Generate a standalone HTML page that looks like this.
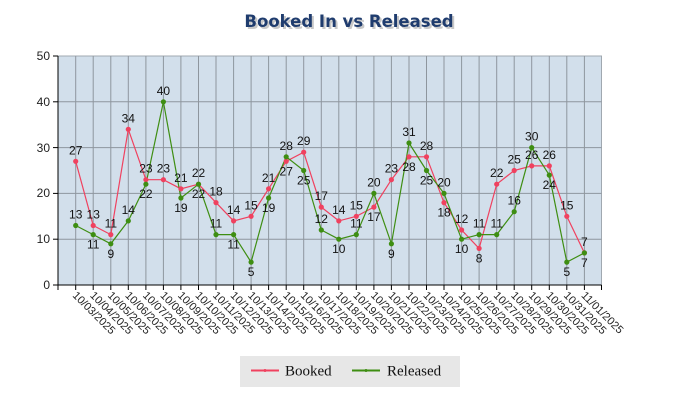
<!DOCTYPE html>
<html><head><meta charset="utf-8"><style>
html,body{margin:0;padding:0;background:#fff;}
svg text{font-family:"Liberation Sans","DejaVu Sans",sans-serif;}
</style></head><body>
<svg width="700" height="400" viewBox="0 0 700 400" xmlns="http://www.w3.org/2000/svg">
<text x="351" y="29" text-anchor="middle" font-size="16.5" font-weight="bold" fill="#c8c8c8" style="font-family:'DejaVu Sans',sans-serif">Booked In vs Released</text>
<text x="349" y="27" text-anchor="middle" font-size="16.5" font-weight="bold" fill="#1f3c6e" style="font-family:'DejaVu Sans',sans-serif">Booked In vs Released</text>
<rect x="58" y="56" width="543.5" height="229" fill="#d2dfeb" stroke="#a0a8b0" stroke-width="1"/>
<g stroke="#8e969e" stroke-width="1">
<line x1="58" y1="101.8" x2="601.5" y2="101.8"/><line x1="58" y1="147.6" x2="601.5" y2="147.6"/><line x1="58" y1="193.4" x2="601.5" y2="193.4"/><line x1="58" y1="239.2" x2="601.5" y2="239.2"/>
<line x1="75.7" y1="56" x2="75.7" y2="285"/><line x1="93.2" y1="56" x2="93.2" y2="285"/><line x1="110.8" y1="56" x2="110.8" y2="285"/><line x1="128.3" y1="56" x2="128.3" y2="285"/><line x1="145.9" y1="56" x2="145.9" y2="285"/><line x1="163.4" y1="56" x2="163.4" y2="285"/><line x1="180.9" y1="56" x2="180.9" y2="285"/><line x1="198.5" y1="56" x2="198.5" y2="285"/><line x1="216.0" y1="56" x2="216.0" y2="285"/><line x1="233.6" y1="56" x2="233.6" y2="285"/><line x1="251.1" y1="56" x2="251.1" y2="285"/><line x1="268.6" y1="56" x2="268.6" y2="285"/><line x1="286.2" y1="56" x2="286.2" y2="285"/><line x1="303.7" y1="56" x2="303.7" y2="285"/><line x1="321.3" y1="56" x2="321.3" y2="285"/><line x1="338.8" y1="56" x2="338.8" y2="285"/><line x1="356.3" y1="56" x2="356.3" y2="285"/><line x1="373.9" y1="56" x2="373.9" y2="285"/><line x1="391.4" y1="56" x2="391.4" y2="285"/><line x1="409.0" y1="56" x2="409.0" y2="285"/><line x1="426.5" y1="56" x2="426.5" y2="285"/><line x1="444.0" y1="56" x2="444.0" y2="285"/><line x1="461.6" y1="56" x2="461.6" y2="285"/><line x1="479.1" y1="56" x2="479.1" y2="285"/><line x1="496.7" y1="56" x2="496.7" y2="285"/><line x1="514.2" y1="56" x2="514.2" y2="285"/><line x1="531.7" y1="56" x2="531.7" y2="285"/><line x1="549.3" y1="56" x2="549.3" y2="285"/><line x1="566.8" y1="56" x2="566.8" y2="285"/><line x1="584.4" y1="56" x2="584.4" y2="285"/>
</g>
<g stroke="#000" stroke-width="1">
<line x1="58" y1="56" x2="58" y2="285"/><line x1="58" y1="285" x2="601.5" y2="285"/>
<line x1="53" y1="56" x2="58" y2="56"/><line x1="53" y1="101.8" x2="58" y2="101.8"/><line x1="53" y1="147.6" x2="58" y2="147.6"/><line x1="53" y1="193.4" x2="58" y2="193.4"/><line x1="53" y1="239.2" x2="58" y2="239.2"/><line x1="53" y1="285" x2="58" y2="285"/>
<line x1="58" y1="285" x2="58" y2="290"/><line x1="601.5" y1="285" x2="601.5" y2="290"/>
<line x1="75.7" y1="285" x2="75.7" y2="290"/><line x1="93.2" y1="285" x2="93.2" y2="290"/><line x1="110.8" y1="285" x2="110.8" y2="290"/><line x1="128.3" y1="285" x2="128.3" y2="290"/><line x1="145.9" y1="285" x2="145.9" y2="290"/><line x1="163.4" y1="285" x2="163.4" y2="290"/><line x1="180.9" y1="285" x2="180.9" y2="290"/><line x1="198.5" y1="285" x2="198.5" y2="290"/><line x1="216.0" y1="285" x2="216.0" y2="290"/><line x1="233.6" y1="285" x2="233.6" y2="290"/><line x1="251.1" y1="285" x2="251.1" y2="290"/><line x1="268.6" y1="285" x2="268.6" y2="290"/><line x1="286.2" y1="285" x2="286.2" y2="290"/><line x1="303.7" y1="285" x2="303.7" y2="290"/><line x1="321.3" y1="285" x2="321.3" y2="290"/><line x1="338.8" y1="285" x2="338.8" y2="290"/><line x1="356.3" y1="285" x2="356.3" y2="290"/><line x1="373.9" y1="285" x2="373.9" y2="290"/><line x1="391.4" y1="285" x2="391.4" y2="290"/><line x1="409.0" y1="285" x2="409.0" y2="290"/><line x1="426.5" y1="285" x2="426.5" y2="290"/><line x1="444.0" y1="285" x2="444.0" y2="290"/><line x1="461.6" y1="285" x2="461.6" y2="290"/><line x1="479.1" y1="285" x2="479.1" y2="290"/><line x1="496.7" y1="285" x2="496.7" y2="290"/><line x1="514.2" y1="285" x2="514.2" y2="290"/><line x1="531.7" y1="285" x2="531.7" y2="290"/><line x1="549.3" y1="285" x2="549.3" y2="290"/><line x1="566.8" y1="285" x2="566.8" y2="290"/><line x1="584.4" y1="285" x2="584.4" y2="290"/>
</g>
<g font-size="12" text-anchor="end" fill="#222">
<text x="50" y="60">50</text><text x="50" y="106">40</text><text x="50" y="152">30</text><text x="50" y="197">20</text><text x="50" y="243">10</text><text x="50" y="289">0</text>
</g>
<g font-size="11" fill="#222">
<text transform="translate(72,296) rotate(45)">10/03/2025</text><text transform="translate(89.5,296) rotate(45)">10/04/2025</text><text transform="translate(107.1,296) rotate(45)">10/05/2025</text><text transform="translate(124.6,296) rotate(45)">10/06/2025</text><text transform="translate(142.2,296) rotate(45)">10/07/2025</text><text transform="translate(159.7,296) rotate(45)">10/08/2025</text><text transform="translate(177.2,296) rotate(45)">10/09/2025</text><text transform="translate(194.8,296) rotate(45)">10/10/2025</text><text transform="translate(212.3,296) rotate(45)">10/11/2025</text><text transform="translate(229.9,296) rotate(45)">10/12/2025</text><text transform="translate(247.4,296) rotate(45)">10/13/2025</text><text transform="translate(264.9,296) rotate(45)">10/14/2025</text><text transform="translate(282.5,296) rotate(45)">10/15/2025</text><text transform="translate(300,296) rotate(45)">10/16/2025</text><text transform="translate(317.6,296) rotate(45)">10/17/2025</text><text transform="translate(335.1,296) rotate(45)">10/18/2025</text><text transform="translate(352.6,296) rotate(45)">10/19/2025</text><text transform="translate(370.2,296) rotate(45)">10/20/2025</text><text transform="translate(387.7,296) rotate(45)">10/21/2025</text><text transform="translate(405.3,296) rotate(45)">10/22/2025</text><text transform="translate(422.8,296) rotate(45)">10/23/2025</text><text transform="translate(440.3,296) rotate(45)">10/24/2025</text><text transform="translate(457.9,296) rotate(45)">10/25/2025</text><text transform="translate(475.4,296) rotate(45)">10/26/2025</text><text transform="translate(493,296) rotate(45)">10/27/2025</text><text transform="translate(510.5,296) rotate(45)">10/28/2025</text><text transform="translate(528,296) rotate(45)">10/29/2025</text><text transform="translate(545.6,296) rotate(45)">10/30/2025</text><text transform="translate(563.1,296) rotate(45)">10/31/2025</text><text transform="translate(580.7,296) rotate(45)">11/01/2025</text>
</g>
<polyline fill="none" stroke="#f0415f" stroke-width="1.2" points="75.7,161.3 93.2,225.5 110.8,234.6 128.3,129.3 145.9,179.7 163.4,179.7 180.9,188.8 198.5,184.2 216.0,202.6 233.6,220.9 251.1,216.3 268.6,188.8 286.2,161.3 303.7,152.2 321.3,207.1 338.8,220.9 356.3,216.3 373.9,207.1 391.4,179.7 409.0,156.8 426.5,156.8 444.0,202.6 461.6,230.0 479.1,248.4 496.7,184.2 514.2,170.5 531.7,165.9 549.3,165.9 566.8,216.3 584.4,252.9"/>
<polyline fill="none" stroke="#3e8e12" stroke-width="1.2" points="75.7,225.5 93.2,234.6 110.8,243.8 128.3,220.9 145.9,184.2 163.4,101.8 180.9,198.0 198.5,184.2 216.0,234.6 233.6,234.6 251.1,262.1 268.6,198.0 286.2,156.8 303.7,170.5 321.3,230.0 338.8,239.2 356.3,234.6 373.9,193.4 391.4,243.8 409.0,143.0 426.5,170.5 444.0,193.4 461.6,239.2 479.1,234.6 496.7,234.6 514.2,211.7 531.7,147.6 549.3,175.1 566.8,262.1 584.4,252.9"/>
<g fill="#f0415f">
<circle cx="75.7" cy="161.3" r="2.6"/><circle cx="93.2" cy="225.5" r="2.6"/><circle cx="110.8" cy="234.6" r="2.6"/><circle cx="128.3" cy="129.3" r="2.6"/><circle cx="145.9" cy="179.7" r="2.6"/><circle cx="163.4" cy="179.7" r="2.6"/><circle cx="180.9" cy="188.8" r="2.6"/><circle cx="198.5" cy="184.2" r="2.6"/><circle cx="216.0" cy="202.6" r="2.6"/><circle cx="233.6" cy="220.9" r="2.6"/><circle cx="251.1" cy="216.3" r="2.6"/><circle cx="268.6" cy="188.8" r="2.6"/><circle cx="286.2" cy="161.3" r="2.6"/><circle cx="303.7" cy="152.2" r="2.6"/><circle cx="321.3" cy="207.1" r="2.6"/><circle cx="338.8" cy="220.9" r="2.6"/><circle cx="356.3" cy="216.3" r="2.6"/><circle cx="373.9" cy="207.1" r="2.6"/><circle cx="391.4" cy="179.7" r="2.6"/><circle cx="409.0" cy="156.8" r="2.6"/><circle cx="426.5" cy="156.8" r="2.6"/><circle cx="444.0" cy="202.6" r="2.6"/><circle cx="461.6" cy="230.0" r="2.6"/><circle cx="479.1" cy="248.4" r="2.6"/><circle cx="496.7" cy="184.2" r="2.6"/><circle cx="514.2" cy="170.5" r="2.6"/><circle cx="531.7" cy="165.9" r="2.6"/><circle cx="549.3" cy="165.9" r="2.6"/><circle cx="566.8" cy="216.3" r="2.6"/><circle cx="584.4" cy="252.9" r="2.6"/>
</g>
<g fill="#3e8e12">
<circle cx="75.7" cy="225.5" r="2.6"/><circle cx="93.2" cy="234.6" r="2.6"/><circle cx="110.8" cy="243.8" r="2.6"/><circle cx="128.3" cy="220.9" r="2.6"/><circle cx="145.9" cy="184.2" r="2.6"/><circle cx="163.4" cy="101.8" r="2.6"/><circle cx="180.9" cy="198.0" r="2.6"/><circle cx="198.5" cy="184.2" r="2.6"/><circle cx="216.0" cy="234.6" r="2.6"/><circle cx="233.6" cy="234.6" r="2.6"/><circle cx="251.1" cy="262.1" r="2.6"/><circle cx="268.6" cy="198.0" r="2.6"/><circle cx="286.2" cy="156.8" r="2.6"/><circle cx="303.7" cy="170.5" r="2.6"/><circle cx="321.3" cy="230.0" r="2.6"/><circle cx="338.8" cy="239.2" r="2.6"/><circle cx="356.3" cy="234.6" r="2.6"/><circle cx="373.9" cy="193.4" r="2.6"/><circle cx="391.4" cy="243.8" r="2.6"/><circle cx="409.0" cy="143.0" r="2.6"/><circle cx="426.5" cy="170.5" r="2.6"/><circle cx="444.0" cy="193.4" r="2.6"/><circle cx="461.6" cy="239.2" r="2.6"/><circle cx="479.1" cy="234.6" r="2.6"/><circle cx="496.7" cy="234.6" r="2.6"/><circle cx="514.2" cy="211.7" r="2.6"/><circle cx="531.7" cy="147.6" r="2.6"/><circle cx="549.3" cy="175.1" r="2.6"/><circle cx="566.8" cy="262.1" r="2.6"/><circle cx="584.4" cy="252.9" r="2.6"/>
</g>
<g font-size="12" text-anchor="middle" fill="#111">
<text x="75.7" y="154.3">27</text><text x="93.2" y="218.5">13</text><text x="110.8" y="227.6">11</text><text x="128.3" y="122.3">34</text><text x="145.9" y="172.7">23</text><text x="163.4" y="172.7">23</text><text x="180.9" y="181.8">21</text><text x="198.5" y="177.2">22</text><text x="216.0" y="195.6">18</text><text x="233.6" y="213.9">14</text><text x="251.1" y="209.3">15</text><text x="268.6" y="181.8">21</text><text x="286.2" y="175.3">27</text><text x="303.7" y="145.2">29</text><text x="321.3" y="200.1">17</text><text x="338.8" y="213.9">14</text><text x="356.3" y="209.3">15</text><text x="373.9" y="221.1">17</text><text x="391.4" y="172.7">23</text><text x="409.0" y="170.8">28</text><text x="426.5" y="149.8">28</text><text x="444.0" y="216.6">18</text><text x="461.6" y="223">12</text><text x="479.1" y="262.4">8</text><text x="496.7" y="177.2">22</text><text x="514.2" y="163.5">25</text><text x="531.7" y="158.9">26</text><text x="549.3" y="158.9">26</text><text x="566.8" y="209.3">15</text><text x="584.4" y="245.9">7</text>
<text x="75.7" y="218.5">13</text><text x="93.2" y="248.6">11</text><text x="110.8" y="257.8">9</text><text x="128.3" y="213.9">14</text><text x="145.9" y="198.2">22</text><text x="163.4" y="94.8">40</text><text x="180.9" y="212">19</text><text x="198.5" y="198.2">22</text><text x="216.0" y="227.6">11</text><text x="233.6" y="248.6">11</text><text x="251.1" y="276.1">5</text><text x="268.6" y="212">19</text><text x="286.2" y="149.8">28</text><text x="303.7" y="184.5">25</text><text x="321.3" y="223">12</text><text x="338.8" y="253.2">10</text><text x="356.3" y="227.6">11</text><text x="373.9" y="186.4">20</text><text x="391.4" y="257.8">9</text><text x="409.0" y="136">31</text><text x="426.5" y="184.5">25</text><text x="444.0" y="186.4">20</text><text x="461.6" y="253.2">10</text><text x="479.1" y="227.6">11</text><text x="496.7" y="227.6">11</text><text x="514.2" y="204.7">16</text><text x="531.7" y="140.6">30</text><text x="549.3" y="189.1">24</text><text x="566.8" y="276.1">5</text><text x="584.4" y="266.9">7</text>
</g>
<rect x="240" y="356" width="220" height="31" fill="#e7e7e7"/>
<line x1="251" y1="370.5" x2="279" y2="370.5" stroke="#f0415f" stroke-width="2"/>
<circle cx="265" cy="370.5" r="1.5" fill="#f0415f"/>
<text x="285" y="375.5" font-size="15" fill="#111" style="font-family:'Liberation Serif',serif">Booked</text>
<line x1="352" y1="370.5" x2="380" y2="370.5" stroke="#3e8e12" stroke-width="2"/>
<circle cx="366" cy="370.5" r="1.5" fill="#3e8e12"/>
<text x="387" y="375.5" font-size="15" fill="#111" style="font-family:'Liberation Serif',serif">Released</text>
</svg>
</body></html>
